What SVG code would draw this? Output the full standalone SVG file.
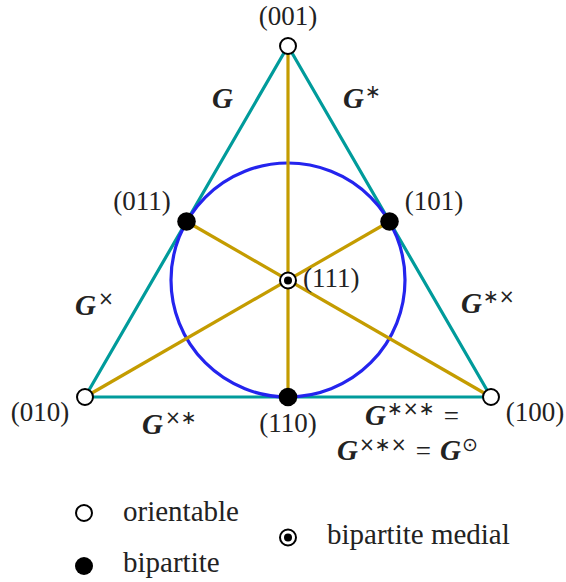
<svg xmlns="http://www.w3.org/2000/svg" width="566" height="582" viewBox="0 0 566 582">
<style>
.tri{fill:none;stroke:#009b9b;stroke-width:3.2;stroke-linejoin:round}
.med{stroke:#c49c00;stroke-width:3.2}
.inc{fill:none;stroke:#2424ee;stroke-width:3.2}
.open{fill:#fff;stroke:#000;stroke-width:2}
.full{fill:#000}
.lbl{font-family:"Liberation Serif","DejaVu Serif",serif;font-size:27px;fill:#222}
.leg{font-size:29px}
.g{font-weight:bold;font-style:italic;font-size:29px}
.sup{font-family:"DejaVu Sans",sans-serif;font-size:19px;font-style:normal;font-weight:normal}
</style>
<rect width="566" height="582" fill="#fff"/>
<g id="connectors">
<polygon class="tri" points="288,46 85,397 491,397"/>
<circle class="inc" cx="288" cy="280" r="117"/>
<line class="med" x1="288" y1="46" x2="288" y2="397"/>
<line class="med" x1="85" y1="397" x2="389.5" y2="221.5"/>
<line class="med" x1="491" y1="397" x2="186.5" y2="221.5"/>
</g>
<g id="n001"><circle class="open" cx="288" cy="46" r="8"/><text class="lbl" x="288" y="25" text-anchor="middle">(001)</text></g>
<g id="n010"><circle class="open" cx="85" cy="397" r="8"/><text class="lbl" x="40" y="421" text-anchor="middle">(010)</text></g>
<g id="n100"><circle class="open" cx="491" cy="397" r="8"/><text class="lbl" x="535" y="421" text-anchor="middle">(100)</text></g>
<g id="n011"><circle class="full" cx="186.5" cy="221.5" r="9.3"/><text class="lbl" x="142" y="210" text-anchor="middle">(011)</text></g>
<g id="n101"><circle class="full" cx="389.5" cy="221.5" r="9.3"/><text class="lbl" x="434" y="210" text-anchor="middle">(101)</text></g>
<g id="n110"><circle class="full" cx="288" cy="397" r="9.3"/><text class="lbl" x="288" y="432" text-anchor="middle">(110)</text></g>
<g id="n111"><circle class="open" cx="288" cy="280.5" r="8"/><circle class="full" cx="288" cy="280.5" r="4"/><text class="lbl" x="303" y="287">(111)</text></g>
<g id="edge-labels">
<text class="lbl" x="212" y="108"><tspan class="g">G</tspan></text>
<text class="lbl" x="343" y="108"><tspan class="g">G</tspan><tspan class="sup" dx="1" dy="-10">∗</tspan></text>
<text class="lbl" x="75" y="315"><tspan class="g">G</tspan><tspan class="sup" dx="2" dy="-10">×</tspan></text>
<text class="lbl" x="461" y="313"><tspan class="g">G</tspan><tspan class="sup" dx="1" dy="-10">∗×</tspan></text>
<text class="lbl" x="142" y="434"><tspan class="g">G</tspan><tspan class="sup" dx="2" dy="-10">×∗</tspan></text>
<text class="lbl" x="365" y="425"><tspan class="g">G</tspan><tspan class="sup" dx="1" dy="-10">∗×∗</tspan><tspan dx="9" dy="10">=</tspan></text>
<text class="lbl" x="337" y="460"><tspan class="g">G</tspan><tspan class="sup" dx="1" dy="-9">×∗×</tspan><tspan dx="9" dy="9">=</tspan><tspan class="g" dx="9">G</tspan><tspan class="sup" dx="1" dy="-9">⊙</tspan></text>
</g>
<g id="legend">
<circle class="open" cx="84" cy="513" r="8"/><text class="lbl leg" x="123" y="521">orientable</text>
<circle class="full" cx="84" cy="566" r="9"/><text class="lbl leg" x="123" y="572">bipartite</text>
<circle class="open" cx="288" cy="537.5" r="8"/><circle class="full" cx="288" cy="537.5" r="4"/><text class="lbl leg" x="327" y="544">bipartite medial</text>
</g>
</svg>
